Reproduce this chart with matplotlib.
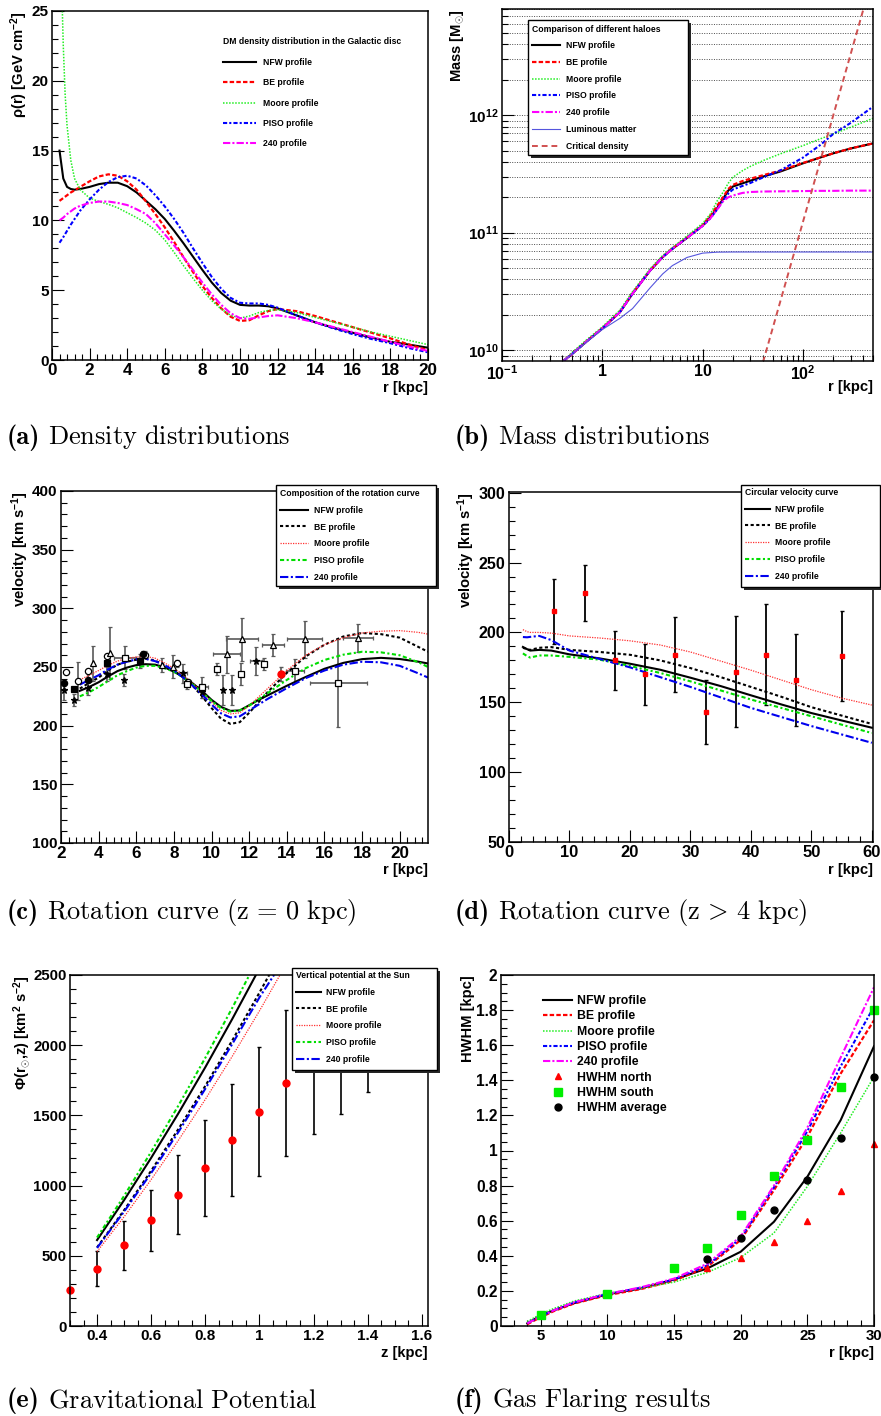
import matplotlib
matplotlib.use('Agg')
import matplotlib.pyplot as plt
from matplotlib.patches import Rectangle
from matplotlib.ticker import (MultipleLocator, FixedLocator, FixedFormatter,
                               LogLocator, NullFormatter, FuncFormatter)

plt.rcParams.update({
    'font.family': ['Liberation Sans', 'DejaVu Sans'],
    'font.weight': 'bold',
    'axes.labelweight': 'bold',
    'axes.linewidth': 1.1,
    'mathtext.fontset': 'custom',
    'mathtext.rm': 'Liberation Sans:bold',
    'mathtext.it': 'Liberation Sans:bold:italic',
    'mathtext.bf': 'Liberation Sans:bold',
    'mathtext.default': 'rm',
})

# (a) DM density in the Galactic disc
r_a = [0.4, 0.6, 0.8, 1.0, 1.2, 1.5, 2, 2.5, 3, 3.5, 4, 4.5, 5, 5.5, 6, 6.5, 7, 7.5,
       8, 8.5, 9, 9.5, 10, 10.5, 11, 11.5, 12, 13, 14, 15, 16, 17, 18, 19, 20]
nfw_a = [15.0, 13.0, 12.4, 12.25, 12.2, 12.25, 12.4, 12.6, 12.7, 12.7, 12.45, 12.0, 11.4,
         10.8, 10.1, 9.25, 8.35, 7.4, 6.45, 5.55, 4.8, 4.25, 3.95, 3.9, 3.9, 3.85, 3.7,
         3.2, 2.7, 2.3, 1.95, 1.6, 1.3, 1.1, 0.88]
be_a = [11.4, 11.6, 11.8, 12.0, 12.15, 12.4, 12.8, 13.15, 13.3, 13.2, 12.8, 12.2, 11.35,
        10.45, 9.5, 8.45, 7.35, 6.3, 5.3, 4.45, 3.7, 3.1, 2.8, 2.85, 3.2, 3.5, 3.65,
        3.5, 3.15, 2.75, 2.35, 1.95, 1.55, 1.1, 0.7]
piso_a = [8.4, 8.8, 9.25, 9.7, 10.1, 10.7, 11.5, 12.2, 12.75, 13.1, 13.2, 13.0, 12.5,
          11.8, 11.0, 10.1, 9.1, 8.0, 6.95, 5.95, 5.1, 4.45, 4.1, 4.05, 4.05, 3.95, 3.75,
          3.2, 2.7, 2.25, 1.85, 1.5, 1.2, 0.85, 0.55]
h240_a = [10.0, 10.2, 10.45, 10.65, 10.85, 11.05, 11.25, 11.35, 11.35, 11.25, 11.1, 10.8,
          10.45, 9.8, 9.0, 8.2, 7.35, 6.45, 5.55, 4.7, 3.95, 3.35, 3.0, 2.95, 3.05, 3.15,
          3.2, 3.0, 2.7, 2.35, 2.0, 1.65, 1.3, 0.95, 0.65]
r_moore_a = [0.55, 0.6, 0.7, 0.8, 1.0, 1.2, 1.5, 2, 2.5, 3, 3.5, 4, 4.5, 5, 5.5, 6, 6.5,
             7, 7.5, 8, 8.5, 9, 9.5, 10, 10.5, 11, 11.5, 12, 13, 14, 15, 16, 17, 18, 19, 20]
moore_a = [25.0, 22.5, 19.0, 16.8, 14.3, 13.0, 12.2, 11.6, 11.35, 11.15, 10.9, 10.55, 10.2,
           9.8, 9.3, 8.6, 7.7, 6.75, 5.85, 5.0, 4.25, 3.65, 3.2, 3.0, 3.15, 3.4, 3.55,
           3.6, 3.4, 3.05, 2.7, 2.35, 2.0, 1.7, 1.4, 1.1]

# (b) enclosed mass
r_b = [0.41, 0.5, 0.7, 1, 1.5, 2, 3, 4, 5, 7, 10, 12, 14, 16, 18, 20, 25, 30, 40, 60,
       100, 150, 200, 300, 500]
nfw_b = [0.81e10, 0.93e10, 1.19e10, 1.53e10, 2.11e10, 3.02e10, 4.77e10, 6.2e10, 7.29e10,
         9.04e10, 1.15e11, 1.36e11, 1.62e11, 1.94e11, 2.28e11, 2.47e11, 2.63e11, 2.77e11,
         3.0e11, 3.32e11, 3.89e11, 4.37e11, 4.73e11, 5.21e11, 5.75e11]
be_b = [0.81e10, 0.93e10, 1.2e10, 1.54e10, 2.13e10, 3.05e10, 4.8e10, 6.25e10, 7.35e10,
        9.1e10, 1.16e11, 1.4e11, 1.7e11, 2.0e11, 2.35e11, 2.55e11, 2.75e11, 2.88e11,
        3.08e11, 3.38e11, 3.92e11, 4.37e11, 4.73e11, 5.21e11, 5.75e11]
moore_b = [0.81e10, 0.96e10, 1.23e10, 1.58e10, 2.2e10, 3.15e10, 4.95e10, 6.4e10, 7.5e10,
           9.4e10, 1.2e11, 1.45e11, 1.87e11, 2.21e11, 2.63e11, 2.96e11, 3.37e11, 3.67e11,
           4.1e11, 4.7e11, 5.5e11, 6.3e11, 6.9e11, 7.9e11, 9.4e11]
piso_b = [0.81e10, 0.93e10, 1.19e10, 1.53e10, 2.11e10, 3.02e10, 4.77e10, 6.2e10, 7.29e10,
          9.04e10, 1.14e11, 1.33e11, 1.58e11, 1.88e11, 2.15e11, 2.33e11, 2.5e11, 2.65e11,
          2.95e11, 3.4e11, 4.35e11, 5.6e11, 6.9e11, 8.6e11, 1.18e12]
h240_b = [0.81e10, 0.93e10, 1.19e10, 1.53e10, 2.11e10, 3.02e10, 4.77e10, 6.2e10, 7.29e10,
          9.04e10, 1.14e11, 1.33e11, 1.58e11, 1.85e11, 2.0e11, 2.07e11, 2.18e11, 2.22e11,
          2.24e11, 2.25e11, 2.26e11, 2.27e11, 2.27e11, 2.28e11, 2.28e11]
r_lum = [0.41, 0.5, 0.7, 1, 1.5, 2, 3, 4, 5, 7, 10, 14, 20, 50, 500]
lum_b = [0.81e10, 0.93e10, 1.18e10, 1.5e10, 1.87e10, 2.26e10, 3.4e10, 4.46e10, 5.25e10,
         6.16e10, 6.7e10, 6.83e10, 6.85e10, 6.85e10, 6.85e10]
r_crit = [40, 100, 200, 400, 450]
crit_b = [7.9e9, 1.23e11, 9.85e11, 7.9e12, 1.12e13]
xt_b = [0.1, 1, 10, 100]
xl_b = ['10$^{-1}$', '1', '10', '10$^{2}$']
yt_b = [1e10, 1e11, 1e12]
yl_b = ['10$^{10}$', '10$^{11}$', '10$^{12}$']

# (c) rotation curve in the plane
r_c = [3, 3.5, 4, 4.5, 5, 5.5, 6, 6.5, 7, 7.5, 8, 8.5, 9, 9.5, 10, 10.5, 11, 11.5, 12,
       12.5, 13, 14, 15, 16, 17, 18, 19, 20, 21, 21.5]
nfw_c = [229.7, 233, 237, 242, 246.5, 249.5, 251.6, 252.4, 252, 249.8, 246, 241.5, 236,
         229.5, 222, 216, 212.6, 213, 217.4, 222, 226, 234, 241.5, 248.5, 253.5, 256.7,
         257.8, 256.8, 254.5, 253]
be_c = [231.6, 236.5, 241, 247, 252, 254.5, 256.2, 257, 255.5, 251.5, 247, 241, 234, 225,
        215, 206, 201.5, 203, 211, 220, 229, 245, 259, 269, 276, 279, 278, 275, 267, 263]
moore_c = [239, 243, 247, 251.5, 255, 257.5, 258.5, 259, 257.5, 253.5, 249, 243, 236,
           228.5, 220, 213, 210, 211, 217, 224.5, 232, 247, 260, 269, 275, 279, 280.5,
           281, 279.5, 278]
piso_c = [225, 228.5, 233, 238, 243, 246.5, 249.5, 251, 251, 249, 246, 241, 235, 228.5,
          221, 215, 212, 213, 217, 222.5, 228, 239, 249, 256, 260.5, 263, 262.5, 260, 254, 250]
h240_c = [235, 239, 243, 248, 252, 254.5, 256.5, 257, 255, 251.5, 247, 241, 234, 226.5,
          218, 210.5, 207, 208, 213, 218, 223, 232, 240.5, 247, 252, 254.5, 254, 251, 244.5, 241]
# observed tracers, grouped by marker
oc_r = [2.27, 2.92, 3.45, 4.43, 6.46, 8.15, 8.77]
oc_v = [245.5, 238, 247, 259.4, 260.3, 253, 237.5]
oc_e = [0, 16, 0, 0, 3, 3, 0]
fc_r = [2.16, 3.42, 6.35]
fc_v = [236.7, 239, 261]
fc_e = [2, 7, 3]
fs_r = [2.69, 4.43, 6.2]
fs_v = [231, 253, 255]
fs_e = [0, 0, 6]
st_r = [2.16, 2.69, 3.42, 4.43, 5.37, 8.47, 9.48, 10.59, 11.07, 12.36]
st_v = [230, 222, 232, 244, 239, 244.7, 229, 230.4, 230.4, 255]
st_e = [8, 5, 6, 6, 5, 8, 5, 13, 13, 12]
st_xe = [0, 0, 0, 0, 0, 0.2, 0, 0, 0, 0.3]
tri_r = [3.72, 4.6, 7.35, 7.93, 10.8, 11.63, 13.28, 14.96, 17.76]
tri_v = [253, 262, 251.7, 250.3, 260.8, 273.6, 268.8, 273.6, 275]
tri_e = [15, 22, 6, 10, 16, 18.5, 9, 16, 12]
tri_xe = [0, 0, 0, 0, 0.72, 0.84, 0.59, 0.93, 0.8]
sq_r = [5.4, 8.68, 9.48, 10.27, 11.54, 12.8, 14.43, 16.74]
sq_v = [258, 235.5, 232.7, 248, 244, 252.6, 246.9, 236.6]
sq_e = [10, 4, 9, 5, 9, 5, 10, 37.5]
sq_xe = [0.6, 0, 0.35, 0, 0, 0, 0.49, 1.5]
red_r = [13.67]
red_v = [244]
red_e = [6]

# (d) rotation curve above the plane
r_d = [2.3, 3, 3.5, 5, 7, 10, 15, 20, 25, 30, 35, 40, 45, 50, 55, 60]
nfw_d = [189.6, 188, 187, 187.5, 187, 184.3, 181.4, 177.6, 173.3, 167.6, 161.6, 155, 148.5,
         142.3, 137, 131.8]
be_d = [189, 188, 187.5, 189, 189.5, 187.5, 186, 184, 180, 174.5, 168, 161, 154, 146.5,
        140.5, 134.5]
moore_d = [202, 200.5, 200, 200, 199.5, 197.5, 196, 194, 191, 186, 179.5, 173, 166, 159,
           153, 148]
piso_d = [185, 183, 182, 183.5, 183.5, 182.5, 180.5, 176, 171, 165, 158.5, 152, 146, 140,
          134, 128]
h240_d = [196.7, 196.5, 196.8, 197.5, 194.5, 187, 181, 175, 168, 161, 153.5, 146, 139.5,
          133, 127, 121]
obs_d_r = [7.5, 12.5, 17.5, 22.5, 27.5, 32.5, 37.5, 42.5, 47.5, 55]
obs_d_v = [215, 228, 180, 170, 184, 143, 172, 184, 166, 183]
obs_d_e = [23, 20, 21, 22, 27, 23, 40, 36, 33, 32]

# (e) vertical potential at the Sun
z_nfw_e = [0.4, 0.5, 0.6, 0.7, 0.8, 0.9, 0.987]
nfw_e = [612, 897, 1198, 1513, 1843, 2188, 2500]
z_be_e = [0.4, 0.5, 0.6, 0.7, 0.8, 0.9, 1.0, 1.036]
be_e = [560, 825, 1106, 1401, 1710, 2035, 2374, 2500]
z_moore_e = [0.4, 0.5, 0.6, 0.7, 0.8, 0.9, 1.0, 1.076]
moore_e = [530, 778, 1043, 1321, 1614, 1922, 2244, 2500]
z_piso_e = [0.4, 0.5, 0.6, 0.7, 0.8, 0.9, 0.963]
piso_e = [630, 927, 1241, 1568, 1910, 2267, 2500]
z_240_e = [0.4, 0.5, 0.6, 0.7, 0.8, 0.9, 1.0, 1.054]
h240_e = [556, 815, 1090, 1380, 1690, 2010, 2340, 2500]
obs_e_z = [0.3, 0.4, 0.5, 0.6, 0.7, 0.8, 0.9, 1.0, 1.1, 1.2, 1.3, 1.4]
obs_e_v = [256, 408, 574, 752, 934, 1127, 1323, 1527, 1734, 1945, 2150, 2360]
obs_e_err = [0, 123, 172, 217, 282, 340, 398, 460, 520, 580, 640, 690]

# (f) gas flaring
r_f = [4, 5, 6, 7.5, 10, 12.5, 15, 17.5, 20, 22.5, 25, 27.5, 30]
nfw_f = [0.015, 0.06, 0.09, 0.13, 0.18, 0.214, 0.265, 0.328, 0.423, 0.594, 0.85, 1.173, 1.594]
be_f = [0.01, 0.05, 0.085, 0.128, 0.176, 0.21, 0.258, 0.338, 0.49, 0.774, 1.078, 1.438, 1.742]
moore_f = [0.025, 0.068, 0.1, 0.142, 0.186, 0.215, 0.25, 0.305, 0.39, 0.53, 0.795, 1.1, 1.42]
piso_f = [0.015, 0.055, 0.09, 0.133, 0.182, 0.218, 0.265, 0.345, 0.5, 0.79, 1.11, 1.48, 1.82]
h240_f = [0.015, 0.055, 0.09, 0.135, 0.183, 0.22, 0.27, 0.355, 0.51, 0.80, 1.13, 1.53, 1.93]
north_r = [17.5, 20, 22.5, 25, 27.5, 30]
north = [0.328, 0.389, 0.48, 0.598, 0.77, 1.038]
south_r = [5, 10, 15, 17.5, 20, 22.5, 25, 27.5, 30]
south = [0.063, 0.18, 0.332, 0.442, 0.63, 0.852, 1.059, 1.36, 1.80]
avg_r = [17.5, 20, 22.5, 25, 27.5, 30]
avg = [0.381, 0.503, 0.662, 0.831, 1.07, 1.421]

W, H = 881, 1416
fig = plt.figure(figsize=(W / 100, H / 100), dpi=100)


def px(x, y):
    return x / W, 1 - y / H


def panel(left, top, right, bottom, xsize=11.5, ysize=11):
    ax = fig.add_axes([left / W, 1 - bottom / H, (right - left) / W, (bottom - top) / H])
    ax.tick_params(which='both', direction='in', top=False, right=False, width=0.8)
    ax.tick_params(which='major', length=8.5, pad=2.5)
    ax.tick_params(which='minor', length=4.3)
    ax.tick_params(axis='x', labelsize=xsize)
    ax.tick_params(axis='y', labelsize=ysize)
    return ax


def key_box(ax, x0, y0, x1, y1):
    # ROOT style legend box with a drop shadow (figure pixels)
    w, h = (x1 - x0) / W, (y1 - y0) / H
    ax.add_patch(Rectangle(px(x0 + 3, y1 + 3), w, h, transform=fig.transFigure,
                           facecolor='0.15', edgecolor='none', clip_on=False, zorder=4))
    ax.add_patch(Rectangle(px(x0, y1), w, h, transform=fig.transFigure, facecolor='white',
                           edgecolor='black', lw=1.0, clip_on=False, zorder=4.1))


def key(ax, x, y, title=None, size=6.2, spacing=0.9, hlen=3.2, hpad=0.7):
    leg = ax.legend(loc='upper left', bbox_to_anchor=px(x, y), bbox_transform=fig.transFigure,
                    frameon=False, borderpad=0, borderaxespad=0,
                    prop={'size': size, 'weight': 'bold'}, title=title,
                    title_fontproperties={'size': size, 'weight': 'bold'}, alignment='left',
                    labelspacing=spacing, handlelength=hlen, handletextpad=hpad)
    leg.set_zorder(5)


gfmt = FuncFormatter(lambda v, pos: f'{v:g}')
green_a = '#22ee22'

# ---- (a)
ax = panel(52, 11, 428, 360, xsize=12.3, ysize=11)
ax.plot(r_a, nfw_a, color='black', lw=1.5, label='NFW profile')
ax.plot(r_a, be_a, color='red', lw=1.6, ls=(0, (2, 1)), label='BE profile')
ax.plot(r_moore_a, moore_a, color=green_a, lw=1.1, ls=(0, (1, 1)), label='Moore profile')
ax.plot(r_a, piso_a, color='blue', lw=1.5, ls=(0, (2, 1, 1, 1)), label='PISO profile')
ax.plot(r_a, h240_a, color='magenta', lw=1.5, ls=(0, (3.5, 1, 1, 1)), label='240 profile')
ax.set_xlim(0, 20)
ax.set_ylim(0, 25)
ax.xaxis.set_major_locator(MultipleLocator(2))
ax.xaxis.set_minor_locator(MultipleLocator(0.4))
ax.yaxis.set_major_locator(MultipleLocator(5))
ax.yaxis.set_minor_locator(MultipleLocator(1))
ax.set_xlabel('r [kpc]', loc='right', fontsize=10.6, labelpad=2)
ax.set_ylabel('ρ(r) [GeV cm$^{-2}$]', loc='top', fontsize=10.6, labelpad=1)
key(ax, 223, 37.5, title='DM density distribution in the Galactic disc',
    spacing=1.32, hlen=3.8, hpad=0.8)

# ---- (b)
ax = panel(502, 9, 873, 361, xsize=11.5, ysize=11)
ax.set_xscale('log')
ax.set_yscale('log')
ax.plot(r_b, nfw_b, color='black', lw=1.5, label='NFW profile')
ax.plot(r_b, be_b, color='red', lw=1.6, ls=(0, (2, 1)), label='BE profile')
ax.plot(r_b, moore_b, color=green_a, lw=1.1, ls=(0, (1, 1)), label='Moore profile')
ax.plot(r_b, piso_b, color='blue', lw=1.5, ls=(0, (2, 1, 1, 1)), label='PISO profile')
ax.plot(r_b, h240_b, color='magenta', lw=1.5, ls=(0, (3.5, 1, 1, 1)), label='240 profile')
ax.plot(r_lum, lum_b, color='#5555dd', lw=0.8, label='Luminous matter')
ax.plot(r_crit, crit_b, color='#d05050', lw=1.4, ls=(0, (3, 2)), label='Critical density')
ax.set_xlim(0.1, 500)
ax.set_ylim(8.1e9, 8e12)
ax.xaxis.set_major_locator(FixedLocator(xt_b))
ax.xaxis.set_major_formatter(FixedFormatter(xl_b))
ax.xaxis.set_minor_locator(LogLocator(base=10, subs=range(2, 10), numticks=20))
ax.xaxis.set_minor_formatter(NullFormatter())
ax.yaxis.set_major_locator(FixedLocator(yt_b))
ax.yaxis.set_major_formatter(FixedFormatter(yl_b))
ax.yaxis.set_minor_locator(LogLocator(base=10, subs=range(2, 10), numticks=20))
ax.yaxis.set_minor_formatter(NullFormatter())
ax.yaxis.grid(True, which='both', color='0.3', lw=0.7, ls=(0, (1, 1.5)))
ax.set_xlabel('r [kpc]', loc='right', fontsize=10.6, labelpad=-2)
ax.set_ylabel(r'Mass [M$_{\odot}$]', loc='top', fontsize=10.6, labelpad=1)
key_box(ax, 528, 20, 688, 155)
key(ax, 532, 24.5, title='Comparison of different haloes', hlen=3.3)

# ---- (c)
ax = panel(61, 491, 428, 843, xsize=12.3, ysize=11)
groups = [(oc_r, oc_v, oc_e, None, 'o', 'white'),
          (fc_r, fc_v, fc_e, None, 'o', 'black'),
          (fs_r, fs_v, fs_e, None, 's', 'black'),
          (st_r, st_v, st_e, st_xe, '*', 'black'),
          (tri_r, tri_v, tri_e, tri_xe, '^', 'white'),
          (sq_r, sq_v, sq_e, sq_xe, 's', 'white')]
for r, v, ye, xe, mk, fc in groups:
    ax.errorbar(r, v, yerr=ye, xerr=xe, fmt=mk, ms=4.5, mfc=fc, mec='black', mew=0.9,
                ecolor='0.35', elinewidth=1.2, capsize=1.5, capthick=1)
ax.errorbar(red_r, red_v, yerr=red_e, fmt='o', ms=5, color='red', ecolor='0.35',
            elinewidth=1.2, capsize=1.5)
ax.plot(r_c, nfw_c, color='black', lw=1.5, label='NFW profile')
ax.plot(r_c, be_c, color='black', lw=1.5, ls=(0, (1.5, 1.2)), label='BE profile')
ax.plot(r_c, moore_c, color='#ff3030', lw=0.9, ls=(0, (1, 1)), label='Moore profile')
ax.plot(r_c, piso_c, color='#00dd00', lw=1.5, ls=(0, (2, 1.2, 1, 1.2)), label='PISO profile')
ax.plot(r_c, h240_c, color='#0000ee', lw=1.5, ls=(0, (4, 1.2, 1, 1.2)), label='240 profile')
ax.set_xlim(2, 21.5)
ax.set_ylim(100, 400)
ax.xaxis.set_major_locator(MultipleLocator(2))
ax.xaxis.set_minor_locator(MultipleLocator(0.4))
ax.yaxis.set_major_locator(MultipleLocator(50))
ax.yaxis.set_minor_locator(MultipleLocator(10))
ax.set_xlabel('r [kpc]', loc='right', fontsize=10.6, labelpad=1)
ax.set_ylabel('velocity [km s$^{-1}$]', loc='top', fontsize=10.6, labelpad=1)
key_box(ax, 276, 485, 436, 586)
key(ax, 280, 489, title='Composition of the rotation curve')

# ---- (d)
ax = panel(509, 492, 873, 842, xsize=11.9, ysize=11.5)
ax.errorbar(obs_d_r, obs_d_v, yerr=obs_d_e, fmt='s', ms=3.5, color='red', ecolor='black',
            elinewidth=1.3, capsize=1.5)
ax.plot(r_d, nfw_d, color='black', lw=1.5, label='NFW profile')
ax.plot(r_d, be_d, color='black', lw=1.5, ls=(0, (1.5, 1.2)), label='BE profile')
ax.plot(r_d, moore_d, color='#ff3030', lw=0.9, ls=(0, (1, 1)), label='Moore profile')
ax.plot(r_d, piso_d, color='#00dd00', lw=1.5, ls=(0, (2, 1.2, 1, 1.2)), label='PISO profile')
ax.plot(r_d, h240_d, color='#0000ee', lw=1.5, ls=(0, (4, 1.2, 1, 1.2)), label='240 profile')
ax.set_xlim(0, 60.2)
ax.set_ylim(50, 300.5)
ax.xaxis.set_major_locator(MultipleLocator(10))
ax.xaxis.set_minor_locator(MultipleLocator(2))
ax.yaxis.set_major_locator(MultipleLocator(50))
ax.yaxis.set_minor_locator(MultipleLocator(10))
ax.set_xlabel('r [kpc]', loc='right', fontsize=10.6, labelpad=2)
ax.set_ylabel('velocity [km s$^{-1}$]', loc='top', fontsize=10.6, labelpad=1)
key_box(ax, 741, 485, 880, 587)
key(ax, 745, 488, title='Circular velocity curve', hlen=2.9, hpad=0.6)

# ---- (e)
ax = panel(70, 975, 428, 1326, xsize=11, ysize=10.8)
eb = ax.errorbar(obs_e_z, obs_e_v, yerr=obs_e_err, fmt='o', ms=5, color='red',
                 ecolor='black', elinewidth=1.2, capsize=1.5)
eb[0].set_clip_on(False)
ax.plot(z_nfw_e, nfw_e, color='black', lw=1.5, label='NFW profile')
ax.plot(z_be_e, be_e, color='black', lw=1.5, ls=(0, (1.5, 1.2)), label='BE profile')
ax.plot(z_moore_e, moore_e, color='#ff3030', lw=0.9, ls=(0, (1, 1)), label='Moore profile')
ax.plot(z_piso_e, piso_e, color='#00dd00', lw=1.5, ls=(0, (2, 1.2, 1, 1.2)), label='PISO profile')
ax.plot(z_240_e, h240_e, color='#0000ee', lw=1.5, ls=(0, (4, 1.2, 1, 1.2)), label='240 profile')
ax.set_xlim(0.3, 1.623)
ax.set_ylim(0, 2500)
ax.xaxis.set_major_locator(MultipleLocator(0.2))
ax.xaxis.set_minor_locator(MultipleLocator(0.05))
ax.xaxis.set_major_formatter(gfmt)
ax.yaxis.set_major_locator(MultipleLocator(500))
ax.yaxis.set_minor_locator(MultipleLocator(100))
ax.set_xlabel('z [kpc]', loc='right', fontsize=10.6, labelpad=2)
ax.set_ylabel(r'Φ(r$_{\odot}$,z) [km$^{2}$ s$^{-2}$]', loc='top', fontsize=10.6, labelpad=1)
key_box(ax, 292, 968, 437, 1070)
key(ax, 296, 971, title='Vertical potential at the Sun', hlen=2.9, hpad=0.6)

# ---- (f)
ax = panel(501, 975, 874, 1326, xsize=10.8, ysize=11.2)
ax.plot(r_f, nfw_f, color='black', lw=1.5, label='NFW profile')
ax.plot(r_f, be_f, color='red', lw=1.6, ls=(0, (2, 1)), label='BE profile')
ax.plot(r_f, moore_f, color=green_a, lw=1.1, ls=(0, (1, 1)), label='Moore profile')
ax.plot(r_f, piso_f, color='blue', lw=1.5, ls=(0, (2, 1, 1, 1)), label='PISO profile')
ax.plot(r_f, h240_f, color='magenta', lw=1.5, ls=(0, (3.5, 1, 1, 1)), label='240 profile')
ax.plot(north_r, north, '^', color='red', ms=5, label='HWHM north', clip_on=False)
ax.plot(south_r, south, 's', color='#00ee00', ms=5.5, label='HWHM south', clip_on=False)
ax.plot(avg_r, avg, 'o', color='black', ms=5, label='HWHM average', clip_on=False)
ax.set_xlim(2.03, 30)
ax.set_ylim(0, 2)
ax.xaxis.set_major_locator(MultipleLocator(5))
ax.xaxis.set_minor_locator(MultipleLocator(1))
ax.yaxis.set_major_locator(MultipleLocator(0.2))
ax.yaxis.set_minor_locator(MultipleLocator(0.05))
ax.yaxis.set_major_formatter(gfmt)
ax.set_xlabel('r [kpc]', loc='right', fontsize=10.6, labelpad=2)
ax.set_ylabel('HWHM [kpc]', loc='top', fontsize=10.6, labelpad=1)
key(ax, 543, 995.2, size=8.8, spacing=0.27, hlen=2.4, hpad=0.4)

# sub-figure captions: bold tag, then the roman text
captions = [(7, 444, '(a)', r'$\mathrm{Density\ distributions}$'),
            (455, 444, '(b)', r'$\mathrm{Mass\ distributions}$'),
            (7, 919, '(c)', r'$\mathrm{Rotation\ curve\ (z\,=\,0\ kpc)}$'),
            (455, 919, '(d)', r'$\mathrm{Rotation\ curve\ (z\,>\,4\ kpc)}$'),
            (7, 1407, '(e)', r'$\mathrm{Gravitational\ Potential}$'),
            (455, 1407, '(f)', r'$\mathrm{Gas\ Flaring\ results}$')]
renderer = fig.canvas.get_renderer()
for x, y, tag, s in captions:
    t = fig.text(*px(x, y), tag, family='cmb10', fontsize=19, va='baseline', ha='left')
    x_end = t.get_window_extent(renderer).x1
    fig.text(*px(x_end + 8, y), s, math_fontfamily='cm', fontsize=19,
             va='baseline', ha='left')

fig.savefig('out.png', dpi=100)
